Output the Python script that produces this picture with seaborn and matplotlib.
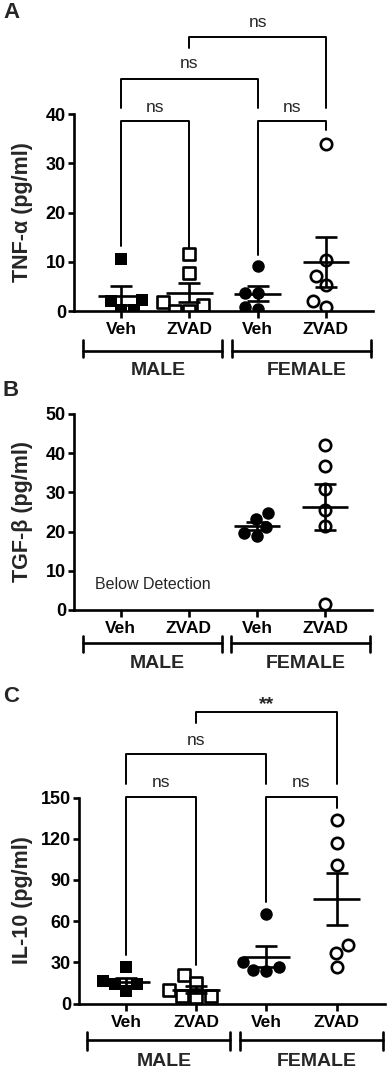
import numpy as np
import pandas as pd
import matplotlib
matplotlib.use("Agg")
import matplotlib.pyplot as plt
import seaborn as sns
from matplotlib.transforms import blended_transform_factory

# ---------------- data ----------------
groups = ["M_Veh", "M_ZVAD", "F_Veh", "F_ZVAD"]
tick_labels = ["Veh", "ZVAD", "Veh", "ZVAD"]
sex_labels = ["MALE", "FEMALE"]

# TNF-alpha (pg/ml)
tnf_male_veh = [10.6, 2.3, 0.3, 2.0, 0.3]
tnf_male_zvad = [11.6, 7.7, 1.8, 1.2, 0.1, 0.1]
tnf_female_veh = [9.2, 3.6, 3.6, 0.5, 0.8]
tnf_female_zvad = [34.0, 10.4, 7.2, 5.2, 2.1, 0.8]

# TGF-beta (pg/ml) -- male below detection
tgf_male_veh = []
tgf_male_zvad = []
tgf_female_veh = [24.7, 23.1, 21.1, 19.7, 18.9]
tgf_female_zvad = [42.1, 36.7, 30.8, 25.5, 21.4, 1.5]

# IL-10 (pg/ml)
il10_male_veh = [26.3, 16.1, 14.1, 14.1, 8.8]
il10_male_zvad = [20.7, 14.8, 10.0, 5.6, 5.1, 4.4]
il10_female_veh = [65.2, 30.4, 26.8, 24.4, 23.7]
il10_female_zvad = [133.6, 116.6, 100.8, 42.6, 36.5, 26.3]

# comparisons: (group i, group j, label)
tnf_tests = [(0, 1, "ns"), (2, 3, "ns"), (0, 2, "ns"), (1, 3, "ns")]
il10_tests = [(0, 1, "ns"), (2, 3, "ns"), (0, 2, "ns"), (1, 3, "**")]


def make_df(arrays):
    rows = []
    for g, vals in zip(groups, arrays):
        for v in vals:
            rows.append({"group": g, "value": v})
    return pd.DataFrame(rows, columns=["group", "value"])


df_tnf = make_df([tnf_male_veh, tnf_male_zvad, tnf_female_veh, tnf_female_zvad])
df_tgf = make_df([tgf_male_veh, tgf_male_zvad, tgf_female_veh, tgf_female_zvad])
df_il10 = make_df([il10_male_veh, il10_male_zvad, il10_female_veh, il10_female_zvad])

# ---------------- style ----------------
sns.set_theme(style="ticks")
plt.rcParams["font.family"] = ["Liberation Sans", "DejaVu Sans"]
plt.rcParams["axes.linewidth"] = 1.9

W, H = 387, 1071
fig = plt.figure(figsize=(W / 100, H / 100), dpi=100)


def rect(left, right, top, bottom):
    return [left / W, 1 - bottom / H, (right - left) / W, (bottom - top) / H]


marker_style = {
    "M_Veh": dict(marker="s", color="black", edgecolor="black", linewidth=0, size=9),
    "M_ZVAD": dict(marker="s", color="white", edgecolor="black", linewidth=1.9, size=8.2),
    "F_Veh": dict(marker="o", color="black", edgecolor="black", linewidth=0, size=9),
    "F_ZVAD": dict(marker="o", color="white", edgecolor="black", linewidth=1.9, size=8.2),
}


def draw_panel(ax, df, ylim, yticks, ylabel, xlim, label_x, grp):
    for g in groups:
        sub = df[df["group"] == g]
        if len(sub) == 0:
            continue
        sns.swarmplot(data=sub, x="group", y="value", order=groups, ax=ax,
                      zorder=2, **marker_style[g])
    # mean +/- SEM
    stats = df.groupby("group")["value"].agg(["mean", "sem"]).reindex(groups)
    for i, g in enumerate(groups):
        m, s = stats.loc[g, "mean"], stats.loc[g, "sem"]
        if np.isnan(m):
            continue
        ax.hlines(m, i - 0.34, i + 0.34, color="black", lw=1.9, zorder=4)
        ax.errorbar(i, m, yerr=s, fmt="none", ecolor="black", elinewidth=1.9,
                    capsize=7.8, capthick=1.9, zorder=4)
    ax.set_xlim(*xlim)
    ax.set_ylim(*ylim)
    ax.set_yticks(yticks)
    ax.set_yticklabels([str(t) for t in yticks], fontsize=13, fontweight="bold")
    ax.set_xticks(range(len(groups)))
    ax.set_xticklabels(tick_labels, fontsize=12.5, fontweight="bold")
    ax.set_xlabel("")
    ax.set_ylabel(ylabel, fontsize=15.5, fontweight="bold")
    ax.yaxis.set_label_coords(label_x, 0.5)
    ax.tick_params(axis="y", length=4.3, width=1.9, pad=1.5, colors="black")
    ax.tick_params(axis="x", length=5, width=1.9, pad=3, colors="black")
    sns.despine(ax=ax)
    for sp in ax.spines.values():
        sp.set_color("black")
    # group brackets below the axis
    bbox = ax.get_position()
    hpx = bbox.height * H
    line_off, cap_top, cap_bot, text_off = grp
    tr = blended_transform_factory(ax.transData, ax.transAxes)
    for (x0, x1), xc, lab in zip([(-0.55, 1.48), (1.62, 3.66)], [0.54, 2.72], sex_labels):
        ax.plot([x0, x1], [-line_off / hpx] * 2, color="black", lw=1.9,
                transform=tr, clip_on=False)
        for xx in (x0, x1):
            ax.plot([xx, xx], [-cap_top / hpx, -cap_bot / hpx], color="black",
                    lw=1.9, transform=tr, clip_on=False)
        ax.text(xc, -text_off / hpx, lab, transform=tr, ha="center", va="center",
                fontsize=14, fontweight="bold")


def brackets(ax, tests, geo):
    for (i, j, lab), (ytop, yl, yr, ytxt) in zip(tests, geo):
        ax.plot([i, i, j, j], [yl, ytop, ytop, yr], color="black", lw=1.4,
                clip_on=False, zorder=3)
        bold = lab != "ns"
        ax.text((i + j) / 2, ytxt, lab, ha="center", va="baseline",
                fontsize=14 if bold else 12.5,
                fontweight="bold" if bold else "normal", clip_on=False)


# Panel A
axA = fig.add_axes(rect(74, 373, 114, 311))
draw_panel(axA, df_tnf, (0, 40), [0, 10, 20, 30, 40], "TNF-α (pg/ml)",
           (-0.688, 3.688), -0.137, (39.7, 29, 46, 59))
brackets(axA, tnf_tests, [(38.6, 13.1, 12.8, 40.5), (38.6, 11.4, 36.8, 40.5),
                          (47.1, 41.2, 41.2, 49.3), (55.6, 53.4, 41.2, 57.6)])

# Panel B
axB = fig.add_axes(rect(74, 372, 414, 610))
draw_panel(axB, df_tgf, (0, 50), [0, 10, 20, 30, 40, 50], "TGF-β (pg/ml)",
           (-0.686, 3.69), -0.138, (32.7, 26, 41.7, 54))
axB.text(-0.377, 6.6, "Below Detection", ha="left", va="center", fontsize=11.5)

# Panel C
axC = fig.add_axes(rect(79, 385, 797.5, 1003.5))
draw_panel(axC, df_il10, (0, 150), [0, 30, 60, 90, 120, 150], "IL-10 (pg/ml)",
           (-0.67, 3.69), -0.15, (36.5, 28, 46.5, 58))
brackets(axC, il10_tests, [(150.6, 35.3, 28.0, 157.4), (150.6, 74.1, 142.1, 157.4),
                           (181.7, 159.8, 159.8, 188.2), (212.5, 204.5, 159.8, 214.5)])

for letter, ypx in zip(["A", "B", "C"], [12, 390, 696]):
    fig.text(3 / W, 1 - ypx / H, letter, ha="left", va="center",
             fontsize=16, fontweight="bold")

fig.savefig("out.png", dpi=100)
